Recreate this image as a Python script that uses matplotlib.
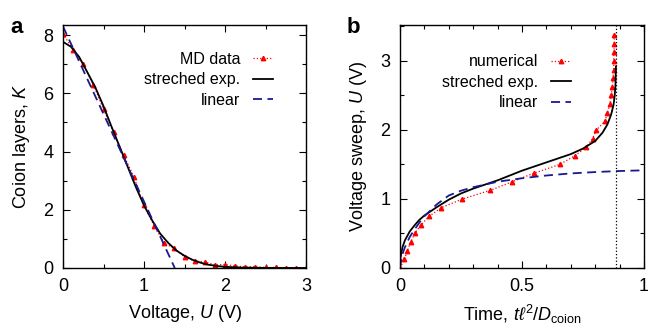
import matplotlib
matplotlib.use("Agg")
import matplotlib.pyplot as plt
from matplotlib.ticker import MultipleLocator

plt.rcParams['font.family'] = ['Liberation Sans', 'DejaVu Sans']
plt.rcParams['mathtext.fontset'] = 'custom'
plt.rcParams['mathtext.rm'] = 'Liberation Sans'
plt.rcParams['mathtext.it'] = 'Liberation Sans:italic'
plt.rcParams['font.size'] = 13

# ---- Panel a data ----
U_md = [0, 0.125, 0.25, 0.375, 0.5, 0.625, 0.75, 0.875, 1.0, 1.125, 1.25, 1.375, 1.5,
        1.625, 1.75, 1.875, 2.0, 2.125, 2.25, 2.375, 2.5, 2.625, 2.75, 2.875, 3.0]
K_md = [8.05, 7.5, 7.0, 6.3, 5.45, 4.67, 3.87, 3.13, 2.15, 1.45, 0.85, 0.68, 0.38,
        0.24, 0.21, 0.11, 0.12, 0.07, 0.04, 0.04, 0.02, 0.02, 0.01, 0.01, 0.01]
U_str = [0, 0.1, 0.2, 0.3, 0.4, 0.5, 0.6, 0.7, 0.8, 0.9, 1.0, 1.1, 1.2, 1.3, 1.4, 1.5,
         1.6, 1.7, 1.8, 1.9, 2.0, 2.2, 2.5, 3.0]
K_str = [7.77, 7.6, 7.25, 6.73, 6.2, 5.56, 4.85, 4.16, 3.47, 2.78, 2.15, 1.64, 1.18, 0.86,
         0.6, 0.42, 0.28, 0.18, 0.11, 0.07, 0.04, 0.015, 0.003, 0.0]
U_lin = [0, 1.38]
K_lin = [8.3, 0.0]

# ---- Panel b data ----
U_num = [0, 0.125, 0.25, 0.375, 0.5, 0.625, 0.75, 0.875, 1.0, 1.125, 1.25, 1.375, 1.5,
         1.625, 1.75, 1.875, 2.0, 2.125, 2.25, 2.375, 2.5, 2.625, 2.75, 2.875, 3.0,
         3.125, 3.25, 3.375]
t_num = [0, 0.018, 0.03, 0.044, 0.06, 0.086, 0.12, 0.17, 0.256, 0.37, 0.46, 0.55, 0.655,
         0.716, 0.764, 0.789, 0.805, 0.84, 0.85, 0.86, 0.866, 0.87, 0.873, 0.876, 0.876,
         0.877, 0.878, 0.878]
t_str = [0, 0.002, 0.01, 0.02, 0.04, 0.06, 0.08, 0.1, 0.15, 0.2, 0.25, 0.3, 0.4, 0.5, 0.6,
         0.7, 0.75, 0.8, 0.83, 0.85, 0.865, 0.875, 0.88, 0.883, 0.884, 0.885]
Ub_str = [0, 0.15, 0.3, 0.4, 0.53, 0.62, 0.7, 0.76, 0.88, 0.99, 1.08, 1.15, 1.27, 1.41, 1.53,
          1.65, 1.73, 1.84, 1.96, 2.08, 2.22, 2.36, 2.5, 2.65, 2.8, 2.92]
t_lin = [0, 0.005, 0.01, 0.02, 0.04, 0.06, 0.08, 0.1, 0.15, 0.2, 0.25, 0.3, 0.4, 0.5, 0.6,
         0.7, 0.8, 0.9, 1.0]
Ub_lin = [0, 0.12, 0.2, 0.3, 0.45, 0.56, 0.66, 0.75, 0.92, 1.05, 1.12, 1.17, 1.25, 1.30,
          1.34, 1.37, 1.39, 1.405, 1.415]
t_crit = 0.885

W, H = 648, 329
fig = plt.figure(figsize=(W/100, H/100), dpi=100)
axa = fig.add_axes([63/W, 1-268/H, 243/W, 243/H])
axb = fig.add_axes([400/W, 1-268/H, 244/W, 243/H])

red = '#ff0000'
blue = '#1a1a8c'

def style(ax):
    ax.tick_params(which='both', direction='in', top=True, right=True, labelsize=13, pad=7)
    ax.tick_params(which='major', length=5, width=0.8)
    ax.tick_params(which='minor', length=3, width=0.8)
    for s in ax.spines.values():
        s.set_linewidth(1.0)

mk = dict(marker='^', ms=3.2, mec=red, mfc=red)

# Panel a
axa.plot(U_md, K_md, ':', color=red, lw=0.9, label='MD data', **mk)
axa.plot(U_str, K_str, '-', color='black', lw=1.3, label='streched exp.')
axa.plot(U_lin, K_lin, '--', color=blue, lw=1.3, dashes=(5, 3), label='linear')
axa.set_xlim(0, 3)
axa.set_ylim(0, 8.35)
axa.xaxis.set_major_locator(MultipleLocator(1))
axa.xaxis.set_minor_locator(MultipleLocator(0.5))
axa.yaxis.set_major_locator(MultipleLocator(2))
axa.yaxis.set_minor_locator(MultipleLocator(1))
style(axa)
axa.set_xlabel('Voltage, $U$ (V)', fontsize=13, labelpad=6)
axa.set_ylabel('Coion layers, $K$', fontsize=13, labelpad=8)
axa.legend(loc='upper right', bbox_to_anchor=(0.865, 0.89), frameon=False, markerfirst=False,
           fontsize=11.5, handlelength=1.25, labelspacing=0.35, borderpad=0, handletextpad=0.8,
           borderaxespad=0)
fig.text(10/W, 1-33/H, 'a', fontsize=16, fontweight='bold')

# Panel b
axb.plot(t_num, U_num, ':', color=red, lw=0.9, label='numerical', **mk)
axb.plot(t_str, Ub_str, '-', color='black', lw=1.3, label='streched exp.')
axb.plot(t_lin, Ub_lin, '--', color=blue, lw=1.3, dashes=(5, 3), label='linear')
axb.axvline(t_crit, color='black', ls=':', lw=0.9)
axb.set_xlim(0, 1)
axb.set_ylim(0, 3.52)
axb.xaxis.set_minor_locator(MultipleLocator(0.1))
axb.yaxis.set_major_locator(MultipleLocator(1))
axb.yaxis.set_minor_locator(MultipleLocator(0.5))
axb.set_xticks([0, 0.5, 1])
axb.set_xticklabels(['0', '0.5', '1'])
style(axb)
axb.set_xlabel(r'Time, $t\ell^2/D_{\rm coion}$', fontsize=13, labelpad=6)
axb.set_ylabel('Voltage sweep, $U$ (V)', fontsize=13, labelpad=8)
axb.legend(loc='upper right', bbox_to_anchor=(0.70, 0.88), frameon=False, markerfirst=False,
           fontsize=11.5, handlelength=1.25, labelspacing=0.35, borderpad=0, handletextpad=0.8,
           borderaxespad=0)
fig.text(347/W, 1-33/H, 'b', fontsize=16, fontweight='bold')

fig.savefig('out.png', dpi=100)
